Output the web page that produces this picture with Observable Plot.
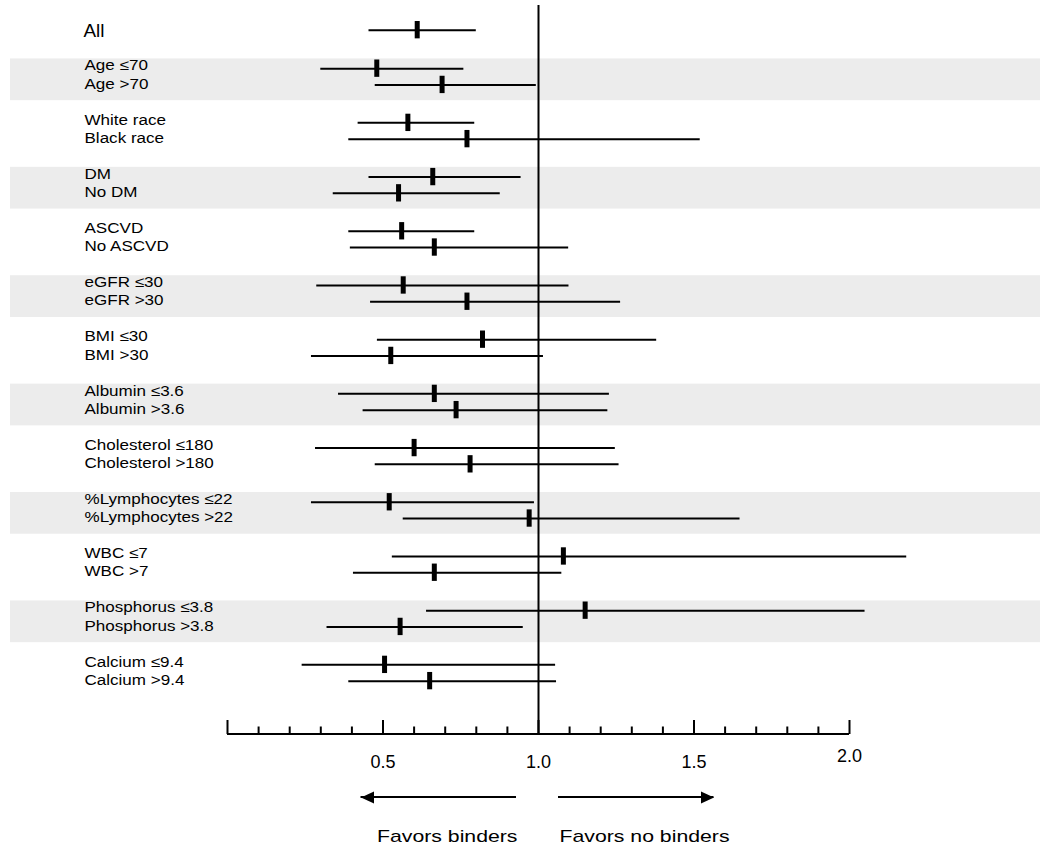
<!DOCTYPE html>
<html>
<head>
<meta charset="utf-8">
<script src="https://cdn.jsdelivr.net/npm/d3@7"></script>
<script src="https://cdn.jsdelivr.net/npm/@observablehq/plot@0.6"></script>
<style>
  html, body { margin: 0; padding: 0; background: #fff; }
  svg { display: block; }
</style>
</head>
<body>
<div id="chart"></div>
<script>
// ---- data ----
const labels = [
  "All",
  "Age ≤70", "Age >70",
  "White race", "Black race",
  "DM", "No DM",
  "ASCVD", "No ASCVD",
  "eGFR ≤30", "eGFR >30",
  "BMI ≤30", "BMI >30",
  "Albumin ≤3.6", "Albumin >3.6",
  "Cholesterol ≤180", "Cholesterol >180",
  "%Lymphocytes ≤22", "%Lymphocytes >22",
  "WBC ≤7", "WBC >7",
  "Phosphorus ≤3.8", "Phosphorus >3.8",
  "Calcium ≤9.4", "Calcium >9.4"
];
const groupOf = [0, 1, 1, 2, 2, 3, 3, 4, 4, 5, 5, 6, 6, 7, 7, 8, 8, 9, 9, 10, 10, 11, 11, 12, 12];
const estimates = [0.61, 0.48, 0.69, 0.58, 0.77, 0.66, 0.55, 0.56, 0.665, 0.565, 0.77, 0.82, 0.525,
                   0.665, 0.735, 0.60, 0.78, 0.52, 0.97, 1.08, 0.665, 1.15, 0.555, 0.505, 0.65];
const lower = [0.455, 0.30, 0.475, 0.42, 0.39, 0.455, 0.34, 0.39, 0.395, 0.287, 0.46, 0.482, 0.27,
               0.357, 0.436, 0.283, 0.475, 0.27, 0.565, 0.53, 0.405, 0.64, 0.32, 0.24, 0.39];
const upper = [0.80, 0.76, 0.993, 0.795, 1.52, 0.944, 0.877, 0.795, 1.097, 1.098, 1.264, 1.38, 1.016,
               1.228, 1.223, 1.247, 1.259, 0.987, 1.648, 2.184, 1.075, 2.05, 0.951, 1.055, 1.058];
const shadedGroups = [1, 3, 5, 7, 9, 11];
const majorTicks = [0, 0.5, 1.0, 1.5, 2.0];
const minorTicks = [0.1, 0.2, 0.3, 0.4, 0.6, 0.7, 0.8, 0.9, 1.1, 1.2, 1.3, 1.4, 1.6, 1.7, 1.8, 1.9];
const tickLabels = [{v: 0.5, t: "0.5"}, {v: 1.0, t: "1.0"}, {v: 1.5, t: "1.5"}];
const lastTickLabel = [{v: 2.0, t: "2.0"}];
const nullValue = 1;
const favorLeft = "Favors binders";
const favorRight = "Favors no binders";

// ---- build rows ----
const groupSizes = d3.rollup(groupOf, v => v.length, g => g);
const seen = new Map();
const rows = labels.map((label, i) => {
  const g = groupOf[i];
  const k = seen.get(g) || 0;
  seen.set(g, k + 1);
  const y = groupSizes.get(g) === 1 ? g + 0.14 : g + (k === 0 ? -0.15 : 0.15);
  return {label, g, k, y, est: estimates[i], lo: lower[i], hi: upper[i]};
});
const allRow = rows.filter(r => r.g === 0);
const firstRows = rows.filter(r => r.g !== 0 && r.k === 0);
const secondRows = rows.filter(r => r.g !== 0 && r.k === 1);

const W = 1050, H = 853, mTop = 5, mBottom = 119;
const frameH = H - mTop - mBottom;
const font = "'Liberation Sans', Arial, Helvetica, sans-serif";

const headLeft = {draw(ctx) { ctx.moveTo(0, 0); ctx.lineTo(13, -6); ctx.lineTo(13, 6); ctx.closePath(); }};
const headRight = {draw(ctx) { ctx.moveTo(0, 0); ctx.lineTo(-13, -6); ctx.lineTo(-13, 6); ctx.closePath(); }};

const rowText = {y: "y", text: "label", frameAnchor: "left", dx: 74, textAnchor: "start", fontSize: 14.7, fill: "#000"};

const chart = Plot.plot({
  width: W,
  height: H,
  marginTop: mTop,
  marginBottom: mBottom,
  marginLeft: 10,
  marginRight: 10,
  style: {fontFamily: font, color: "#000", background: "#fff"},
  x: {domain: [0, 2], range: [227, 849], axis: null},
  y: {domain: [0, 12], range: [22.1, 672.5], axis: null},
  marks: [
    Plot.rect(shadedGroups, {y1: g => g - 0.33, y2: g => g + 0.44, fill: "#ececec"}),
    Plot.ruleY(rows, {x1: "lo", x2: "hi", y: "y", stroke: "#000", strokeWidth: 2}),
    Plot.ruleX(rows, {x: "est", y1: d => d.y - 0.16, y2: d => d.y + 0.16, stroke: "#000", strokeWidth: 5}),
    Plot.ruleX([nullValue], {stroke: "#000", strokeWidth: 2}),
    Plot.rect([[0, 2]], {x1: d => d[0], x2: d => d[1], insetTop: frameH - 1, insetBottom: -1, fill: "#000"}),
    Plot.ruleX(majorTicks, {stroke: "#000", strokeWidth: 2, insetTop: frameH - 14}),
    Plot.ruleX(minorTicks, {stroke: "#000", strokeWidth: 2, insetTop: frameH - 7.5}),
    Plot.text(tickLabels, {x: "v", text: "t", frameAnchor: "bottom", dy: 28, fontSize: 18, lineAnchor: "middle", fill: "#000"}),
    Plot.text(lastTickLabel, {x: "v", text: "t", frameAnchor: "bottom", dy: 22, fontSize: 18, lineAnchor: "middle", fill: "#000"}),
    Plot.text(allRow, {y: "y", text: "label", frameAnchor: "left", dx: 73, dy: 1, textAnchor: "start", fontSize: 17.7, fill: "#000"}),
    Plot.text(firstRows, {...rowText, dy: -3}),
    Plot.text(secondRows, {...rowText, dy: -1}),
    Plot.rect([[nullValue, 0.5]], {x1: d => d[0], x2: d => d[1], dx: -22, insetTop: frameH + 62, insetBottom: -64, fill: "#000"}),
    Plot.dot([0.5], {x: d => d, frameAnchor: "bottom", dy: 63, dx: -22, symbol: headLeft, r: 5, fill: "#000", stroke: "none"}),
    Plot.rect([[nullValue, 1.5]], {x1: d => d[0], x2: d => d[1], dx: 20, insetTop: frameH + 62, insetBottom: -64, fill: "#000"}),
    Plot.dot([1.5], {x: d => d, frameAnchor: "bottom", dy: 63, dx: 20, symbol: headRight, r: 5, fill: "#000", stroke: "none"}),
    Plot.text([favorLeft], {x: () => nullValue, text: d => d, frameAnchor: "bottom", dy: 107, dx: -21, textAnchor: "end", fontSize: 17, fill: "#000"}),
    Plot.text([favorRight], {x: () => nullValue, text: d => d, frameAnchor: "bottom", dy: 107, dx: 21, textAnchor: "start", fontSize: 17, fill: "#000"})
  ]
});

document.getElementById("chart").appendChild(chart);

// horizontal stretch of text to mimic the reference's wide lettering
const stretchFor = new Map();
rows.filter(r => r.g !== 0).forEach(r => stretchFor.set(r.label, 1.16));
allRow.forEach(r => stretchFor.set(r.label, 1.07));
stretchFor.set(favorLeft, 1.25);
stretchFor.set(favorRight, 1.25);
d3.select(chart).selectAll("text").each(function () {
  const s = stretchFor.get(this.textContent);
  if (!s) return;
  const t = this.getAttribute("transform");
  if (t) {
    this.setAttribute("transform", `${t} scale(${s},1)`);
  } else {
    const x = +this.getAttribute("x") || 0, y = +this.getAttribute("y") || 0;
    this.removeAttribute("x"); this.removeAttribute("y");
    this.setAttribute("transform", `translate(${x},${y}) scale(${s},1)`);
  }
});
</script>
</body>
</html>
